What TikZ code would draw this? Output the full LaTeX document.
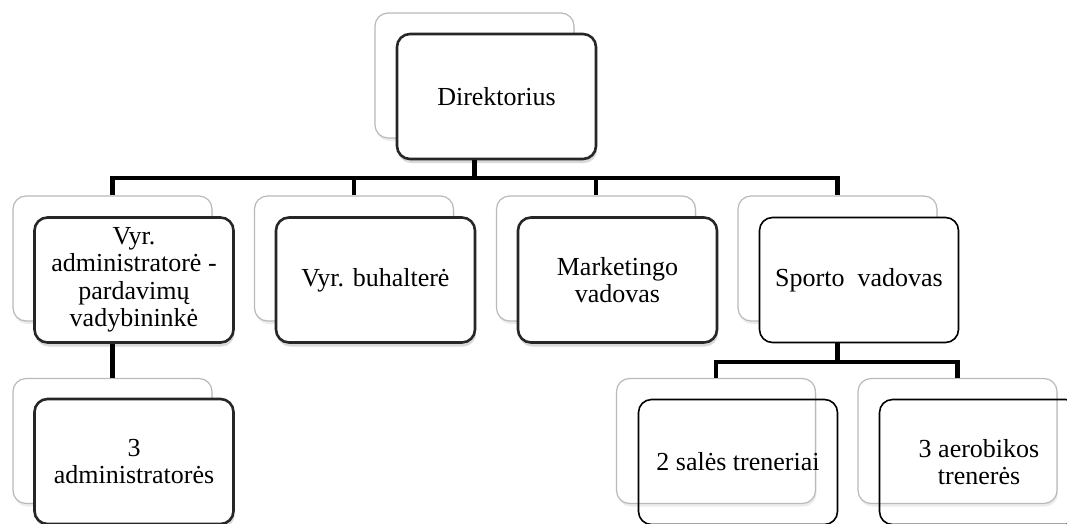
\documentclass[tikz,border=0pt]{standalone}
\usepackage{fontspec}
\setmainfont{Liberation Serif}
\newfontfamily\boxfont{LiberationSerif}[Extension = .ttf, UprightFont = *-Regular]
\usepackage{tikz}
\usetikzlibrary{shadows}

\begin{document}
\begin{tikzpicture}[x = 1pt, y = -1pt]
        \tikzstyle{every node} = [rectangle, rounded corners = 13pt, minimum width = 199pt, minimum height = 125pt, align = center, font = \boxfont\fontsize{26}{27.5}\selectfont]
        \tikzstyle{backbox} = [draw = gray!55, line width = 1.2pt, fill = white, drop shadow = {shadow xshift = 1pt, shadow yshift = -3pt, opacity = 0.15}]
        \tikzstyle{mainbox} = [draw = black!85, line width = 2.6pt, fill = white, drop shadow = {shadow xshift = 1pt, shadow yshift = -4pt, opacity = 0.3}]
        \tikzstyle{thinbox} = [draw = black, line width = 1.6pt]
        \tikzstyle{link} = [line width = 4.5pt]
        \clip (0, 0) rectangle (1067, 523);

        \node(Direktorius0)[backbox] at (474.5, 75.5) {};
        \node(Direktorius)[mainbox] at (496.5, 96.5) {Direktorius};

        \node(Administratore0)[backbox] at (112.5, 258.5) {};
        \node(Administratore)[mainbox] at (134, 280) {Vyr.\\ administratorė -\\ pardavimų\\ vadybininkė};
        \node(Buhaltere0)[backbox] at (354, 258.5) {};
        \node(Buhaltere)[mainbox] at (375.5, 280) {Vyr. buhalterė};
        \node(Marketingas0)[backbox] at (596, 258.5) {};
        \node(Marketingas)[mainbox] at (617.5, 280) {Marketingo\\ vadovas};
        \node(Sportas0)[backbox] at (837.5, 258.5) {};
        \node(Sportas)[thinbox, fill = white] at (859, 280) {Sporto\ \ vadovas};

        \node(Administratores0)[backbox] at (112.5, 441) {};
        \node(Administratores)[mainbox] at (134, 461.5) {3\\ administratorės};
        \node(Salininkai0)[backbox] at (716, 441) {};
        \node(Salininkai)[thinbox] at (738, 462) {2 salės treneriai};
        \node(Aerobika0)[backbox] at (957.5, 441) {};
        \node(Aerobika)[thinbox] at (979, 462) {3 aerobikos\\ trenerės};

        \coordinate(bus) at (0, 178);
        \coordinate(subbus) at (0, 362);
        \draw [link] (Direktorius.south -| Direktorius0) -- (Direktorius0 |- bus);
        \draw [link] (Administratore0.north) -- (Administratore0 |- bus) -- (Sportas0 |- bus) -- (Sportas0.north);
        \draw [link] (Buhaltere0 |- bus) -- (Buhaltere0.north);
        \draw [link] (Marketingas0 |- bus) -- (Marketingas0.north);
        \draw [link] (Administratore.south -| Administratore0) -- (Administratores0.north);
        \draw [link] (Sportas.south -| Sportas0) -- (Sportas0 |- subbus);
        \draw [link] (Salininkai0.north) -- (Salininkai0 |- subbus) -- (Aerobika0 |- subbus) -- (Aerobika0.north);

    \end{tikzpicture}
\end{document}
